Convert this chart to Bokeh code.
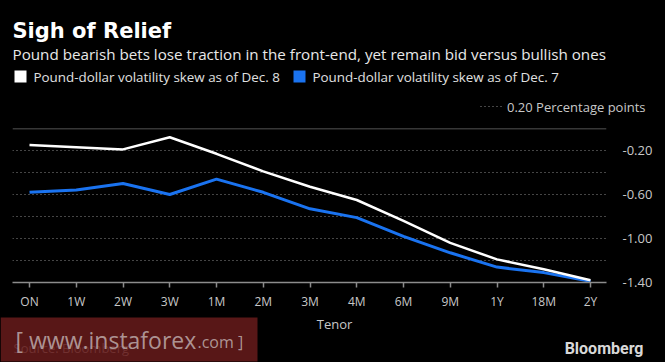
from bokeh.plotting import figure
from bokeh.layouts import column
from bokeh.models import (Range1d, FixedTicker, LinearAxis, Label, Span,
                          BoxAnnotation, NumeralTickFormatter)
from bokeh.embed import file_html
from bokeh.resources import INLINE

# ---- data ----
tenors = ["ON", "1W", "2W", "3W", "1M", "2M", "3M", "4M", "6M", "9M", "1Y", "18M", "2Y"]
skew_dec8 = [-0.15, -0.17, -0.19, -0.08, -0.23, -0.39, -0.53, -0.65, -0.84, -1.04, -1.19, -1.28, -1.38]
skew_dec7 = [-0.58, -0.56, -0.50, -0.60, -0.46, -0.58, -0.73, -0.81, -0.98, -1.13, -1.26, -1.31, -1.39]
y_label_ticks = [-0.2, -0.6, -1.0, -1.4]
y_grid_ticks = [-0.2, -0.4, -0.6, -0.8, -1.0, -1.2]

FONT = "Open Sans"
BG = "#000000"
BLUE = "#1a73f0"
W = 665
HEAD_H, MAIN_H, FOOT_H = 118, 196, 48


def style(f):
    f.background_fill_color = BG
    f.border_fill_color = BG
    f.outline_line_color = None
    f.styles = {"background-color": BG}
    if "frame_align" in f.properties():
        f.frame_align = False


def blank(h):
    f = figure(width=W, height=h, output_backend="svg", toolbar_location=None,
               x_range=Range1d(0, W), y_range=Range1d(0, h),
               x_axis_location=None, y_axis_location=None, min_border=0)
    style(f)
    f.grid.visible = False
    return f


def lab(f, top, text, px, py, size, color, bold=False, align="left",
        baseline="middle", font=FONT, alpha=1.0):
    # px, py: pixel position on the page; converted into the panel's own coordinates
    f.add_layout(Label(x=px, y=top - py, text=text, text_font=font,
                       text_font_size=size, text_color=color, text_alpha=alpha,
                       text_font_style="bold" if bold else "normal",
                       text_align=align, text_baseline=baseline))


def box(f, top, l, r, t, b, color, alpha=1.0):
    f.add_layout(BoxAnnotation(left=l, right=r, top=top - t, bottom=top - b,
                               fill_color=color, fill_alpha=alpha, line_color=None))


# ---------- header ----------
head = blank(HEAD_H)
HT = HEAD_H
lab(head, HT, "Sigh of Relief", 12, 30, "21px", "#ffffff", bold=True,
    baseline="alphabetic", font="DejaVu Sans")
lab(head, HT, "Pound bearish bets lose traction in the front-end, yet remain bid versus bullish ones",
    12, 53, "15.2px", "#e8e8e8", baseline="alphabetic")
box(head, HT, 14, 26, 70, 82, "#ffffff")
lab(head, HT, "Pound-dollar volatility skew as of Dec. 8", 33, 76, "13.4px", "#e0e0e0")
box(head, HT, 293, 305, 70, 82, BLUE)
lab(head, HT, "Pound-dollar volatility skew as of Dec. 7", 312, 76, "13.4px", "#e0e0e0")
head.segment(x0=[480], y0=[HT - 106], x1=[501], y1=[HT - 106],
             line_color="#8a8a8a", line_dash="1 3", line_width=1)
lab(head, HT, "0.20 Percentage points", 645, 106, "13px", "#c8c8c8", align="right")

# ---------- main chart ----------
x = list(range(len(tenors)))
main = figure(width=W, height=MAIN_H, output_backend="svg", toolbar_location=None,
              x_range=Range1d(-0.3636, 12.342), y_range=Range1d(-1.40, 0.0),
              x_axis_location=None, y_axis_location=None,
              min_border_left=12, min_border_right=59, min_border_top=10, min_border_bottom=32)
style(main)
main.xgrid.visible = False
main.ygrid.ticker = FixedTicker(ticks=y_grid_ticks)
main.ygrid.grid_line_color = "#8a8a8a"
main.ygrid.grid_line_dash = "1 3"
main.ygrid.grid_line_width = 1
main.add_layout(Span(location=0.0, dimension="width", line_color="#6e6e6e", line_width=1.5))

xax = LinearAxis(ticker=FixedTicker(ticks=x),
                 major_label_overrides={i: t for i, t in enumerate(tenors)})
xax.axis_line_color = "#8c8c8c"
xax.axis_line_width = 1.5
xax.major_tick_line_color = "#8c8c8c"
xax.major_tick_line_width = 1.5
xax.major_tick_in = 0
xax.major_tick_out = 5
xax.minor_tick_line_color = None
xax.major_label_text_color = "#c8c8c8"
xax.major_label_text_font = FONT
xax.major_label_text_font_size = "12px"
xax.major_label_standoff = 5
main.add_layout(xax, "below")

yax = LinearAxis(ticker=FixedTicker(ticks=y_label_ticks),
                 formatter=NumeralTickFormatter(format="0.00"))
yax.axis_line_color = None
yax.major_tick_line_color = None
yax.minor_tick_line_color = None
yax.major_label_text_color = "#c8c8c8"
yax.major_label_text_font = FONT
yax.major_label_text_font_size = "13px"
yax.major_label_standoff = 10
main.add_layout(yax, "right")

main.line(x, skew_dec7, line_color=BLUE, line_width=3)
main.line(x, skew_dec8, line_color="#ffffff", line_width=2.5)

# ---------- footer ----------
foot = blank(FOOT_H)
FT = 362  # page y of footer bottom
lab(foot, FT, "Tenor", 334, 323, "13px", "#c8c8c8", align="center")
lab(foot, FT, "Source: Bloomberg", 13, 347, "13px", "#8a8a8a")
lab(foot, FT, "Bloomberg", 643, 348, "16px", "#d8d8d8", bold=True, align="right", font="Roboto")
box(foot, FT, 0, 257, 317, 361, "#6b1c1c", 0.82)
lab(foot, FT, "[ www.instaforex", 15, 339, "23px", "#b8a4a4", alpha=0.9)
lab(foot, FT, ".com ]", 197, 341, "16px", "#b8a4a4", alpha=0.9)

p = column(head, main, foot, spacing=0, styles={"background-color": BG})
open("out.html", "w").write(file_html(p, INLINE))
